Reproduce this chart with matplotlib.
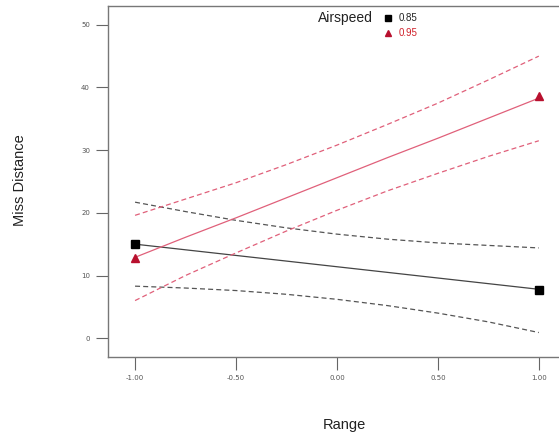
import numpy as np
import matplotlib.pyplot as plt

# Range levels and values
range_x = [-1.0, -0.75, -0.5, -0.25, 0.0, 0.25, 0.5, 0.75, 1.0]

# Airspeed 0.85
fit_085 = [15.0, 14.1, 13.2, 12.3, 11.4, 10.5, 9.6, 8.7, 7.8]
upper_085 = [21.7, 20.2, 18.8, 17.6, 16.6, 15.8, 15.2, 14.8, 14.4]
lower_085 = [8.3, 8.0, 7.6, 7.0, 6.2, 5.2, 4.0, 2.6, 0.9]
pts_x_085 = [-1.0, 1.0]
pts_y_085 = [15.0, 7.7]

# Airspeed 0.95
fit_095 = [12.9, 16.1, 19.2, 22.4, 25.6, 28.8, 31.9, 35.1, 38.3]
upper_095 = [19.6, 22.2, 24.8, 27.7, 30.8, 34.1, 37.5, 41.2, 45.0]
lower_095 = [6.0, 10.0, 13.6, 17.1, 20.4, 23.5, 26.3, 29.0, 31.5]
pts_x_095 = [-1.0, 1.0]
pts_y_095 = [12.8, 38.6]

xticks = [-1.0, -0.5, 0.0, 0.5, 1.0]
xtick_labels = ['-1.00', '-0.50', '0.00', '0.50', '1.00']
yticks = [0, 10, 20, 30, 40, 50]

gray = '#555555'
red_line = '#e0607a'
red_mark = '#b8102e'

fig = plt.figure(figsize=(5.59, 4.37), dpi=100)
ax = fig.add_axes([0.1932, 0.1831, 0.8068, 0.8032])

dash = (0, (4, 2.5))
ax.plot(range_x, fit_085, color='#444444', lw=0.9)
ax.plot(range_x, upper_085, color=gray, lw=0.9, linestyle=dash)
ax.plot(range_x, lower_085, color=gray, lw=0.9, linestyle=dash)
ax.plot(range_x, fit_095, color=red_line, lw=0.9)
ax.plot(range_x, upper_095, color=red_line, lw=0.9, linestyle=dash)
ax.plot(range_x, lower_095, color=red_line, lw=0.9, linestyle=dash)

ax.plot(pts_x_085, pts_y_085, linestyle='none', marker='s', ms=5.5, color='black')
ax.plot(pts_x_095, pts_y_095, linestyle='none', marker='^', ms=6, color=red_mark)

ax.set_xlim(-1.134, 1.10)
ax.set_ylim(-3.0, 53.0)
ax.set_xticks(xticks)
ax.set_xticklabels(xtick_labels)
ax.set_yticks(yticks)
ax.tick_params(axis='both', labelsize=5, colors='#666666', length=9, width=0.8,
               labelcolor='#555555', pad=4)

for side in ['left', 'bottom', 'top']:
    ax.spines[side].set_color('#777777')
    ax.spines[side].set_linewidth(1.0)
ax.spines['right'].set_visible(False)

fig.text(0.036, 0.588, 'Miss Distance', rotation=90, ha='center', va='center',
         fontsize=10.5, color='#222222', family='Liberation Sans')
fig.text(0.616, 0.027, 'Range', ha='center', va='center', fontsize=10.5,
         color='#222222', family='Liberation Sans')

# legend block
fig.text(0.568, 0.958, 'Airspeed', ha='left', va='center', fontsize=10,
         color='#222222', family='Liberation Sans')
ax.plot([0.694 * 559], [0.958 * 437], transform=None, marker='s', ms=4.5,
        color='black', linestyle='none')
ax.plot([0.694 * 559], [0.924 * 437], transform=None, marker='^', ms=5,
        color=red_mark, linestyle='none')
fig.text(0.713, 0.958, '0.85', ha='left', va='center', fontsize=7,
         color='#222222', family='Liberation Sans')
fig.text(0.713, 0.924, '0.95', ha='left', va='center', fontsize=7,
         color='#d0202a', family='Liberation Sans')

fig.savefig('out.png', dpi=100)
